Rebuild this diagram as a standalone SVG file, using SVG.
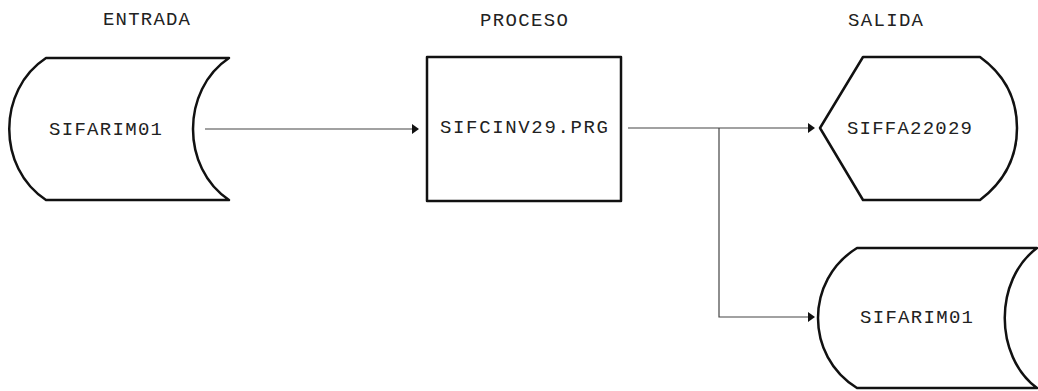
<svg xmlns="http://www.w3.org/2000/svg" width="1038" height="391" viewBox="0 0 1038 391">
<defs>
<style>
.shape{fill:#fff;stroke:#111;stroke-width:2.5;stroke-linejoin:round}
.conn{fill:none;stroke:#444;stroke-width:1.2}
.head{fill:#111}
.t{font-family:"Liberation Mono","DejaVu Sans Mono",monospace;font-size:19px;fill:#222;text-anchor:middle;dominant-baseline:central}
</style>
</defs>
<rect width="1038" height="391" fill="#fff"/>
<g id="titles">
<text class="t" x="146.5" y="20" textLength="87" lengthAdjust="spacing">ENTRADA</text>
<text class="t" x="524" y="21" textLength="88" lengthAdjust="spacing">PROCESO</text>
<text class="t" x="885.5" y="21" textLength="75" lengthAdjust="spacing">SALIDA</text>
</g>
<g id="connectors">
<line class="conn" x1="205" y1="129" x2="413" y2="129"/>
<polygon class="head" points="412,124 419,129 412,134"/>
<polyline class="conn" points="628,128 809,128"/>
<polygon class="head" points="808,123 815,128 808,133"/>
<polyline class="conn" points="719,128 719,317 809,317"/>
<polygon class="head" points="808,312 815,317 808,322"/>
</g>
<g id="entrada">
<path class="shape" d="M46,58 L229,58 C181,90 181,168 229,200 L46,200 C-3,168 -3,90 46,58 Z"/>
<text class="t" x="105.5" y="130" textLength="113" lengthAdjust="spacing">SIFARIM01</text>
</g>
<g id="proceso">
<rect class="shape" x="427" y="57" width="194" height="144"/>
<text class="t" x="524" y="128" textLength="168" lengthAdjust="spacing">SIFCINV29.PRG</text>
</g>
<g id="salida1">
<path class="shape" d="M820,128 L863,57 L980,57 C1005,75 1017,100 1017,128 C1017,156 1005,181 980,200 L863,200 Z"/>
<text class="t" x="909.5" y="129" textLength="125" lengthAdjust="spacing">SIFFA22029</text>
</g>
<g id="salida2">
<path class="shape" d="M857,248 L1037,248 C994,280 994,356 1037,388 L857,388 C805,356 805,280 857,248 Z"/>
<text class="t" x="916.5" y="318" textLength="113" lengthAdjust="spacing">SIFARIM01</text>
</g>
</svg>
